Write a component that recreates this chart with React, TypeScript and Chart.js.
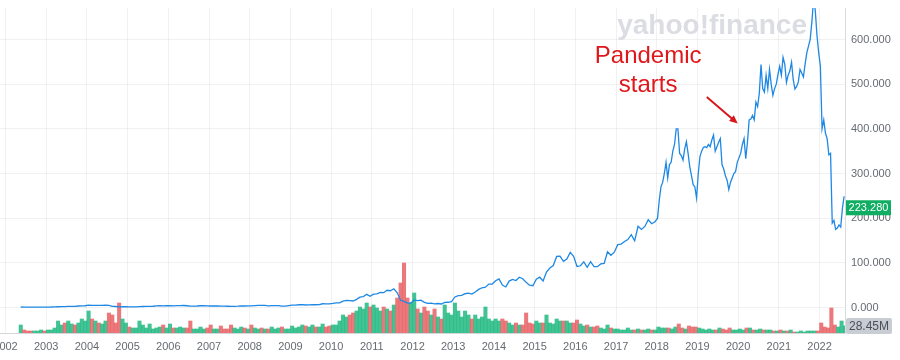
import React, { useEffect, useRef } from "react";
import { Chart, registerables } from "chart.js";

Chart.register(...registerables);

// ---- Data -----------------------------------------------------------
// Monthly closes (split adjusted), May 2002 .. Dec 2017, one per month
const PRICE_MONTHLY_START_YEAR = 2002;
const PRICE_MONTHLY_START_MONTH = 4; // 0-based: May
const PRICE_MONTHLY = [
  1.1, 1.0, 0.8, 0.7, 0.7, 0.9, 0.9, 0.8,
  0.9, 1.1, 1.5, 1.7, 1.9, 1.8, 2.6, 2.7, 2.4, 3.3, 3.7, 3.9,
  5.2, 4.6, 4.9, 4.6, 4.9, 5.1, 4.8, 2.6, 2.2, 1.6, 1.7, 1.8,
  1.6, 1.6, 1.6, 2.0, 2.2, 2.4, 2.6, 2.8, 3.7, 4.0, 3.8, 3.9,
  4.0, 3.8, 4.1, 4.2, 4.5, 3.9, 2.9, 3.0, 3.3, 3.9, 4.0, 3.7,
  3.3, 3.3, 3.3, 3.1, 3.0, 2.8, 2.5, 2.6, 3.0, 3.6, 3.4, 3.8,
  3.6, 4.3, 4.9, 4.6, 4.6, 3.8, 4.2, 4.4, 4.4, 3.2, 3.2, 4.3,
  5.2, 5.5, 6.1, 6.5, 5.6, 5.9, 6.3, 6.1, 6.6, 8.4, 8.3, 7.9,
  9.0, 10.3, 10.5, 14.2, 16.0, 15.6, 14.6, 18.1, 23.2, 24.3, 29.5, 25.1,
  30.0, 30.7, 33.9, 33.2, 38.6, 37.5, 42.0, 33.0, 16.2, 13.5, 9.8, 9.9,
  17.0, 15.6, 16.4, 11.5, 9.2, 9.8, 8.1, 8.9, 7.8, 11.6, 11.7, 13.2,
  23.6, 26.7, 27.0, 30.8, 32.3, 30.2, 34.8, 40.6, 44.2, 45.6, 52.3, 52.6,
  60.0, 64.0, 50.3, 46.0, 59.2, 62.9, 60.4, 67.9, 64.5, 56.3, 49.9, 48.8,
  63.1, 67.8, 59.5, 79.5, 88.3, 93.8, 114.3, 115.0, 103.3, 108.4, 123.3, 114.4,
  91.8, 93.4, 102.2, 90.0, 102.6, 91.5, 91.3, 97.5, 98.6, 124.9, 117.0, 123.8,
  140.7, 142.1, 147.8, 152.2, 163.1, 149.4, 181.7, 174.7, 181.4, 196.4, 187.6, 192.0,
];

// Half-monthly closes, Jan 2018 .. Aug 2022, two per month
const PRICE_HALF_START_YEAR = 2018;
const PRICE_HALF_MONTHLY = [
  200, 240, 270, 280, 300, 325, 290, 320, 325, 350, 365, 400,
  400, 345, 340, 330, 355, 371, 345, 315, 295, 275, 270, 245,
  300, 338, 350, 358, 360, 358, 365, 360, 375, 386, 350, 360,
  370, 378, 320, 310, 295, 285, 264, 280, 290, 300, 304, 325,
  335, 345, 365, 378, 333, 370, 420, 422, 430, 420, 460, 450,
  480, 544, 490, 482, 520, 490, 533, 500, 475, 490, 500, 522,
  540, 520, 560, 545, 504, 520, 530, 549, 510, 489, 495, 505,
  533, 525, 516, 545, 570, 585, 600, 640, 690, 665, 609, 571,
  540, 400, 420, 390, 378, 342, 345, 189, 195, 175, 178, 185,
  180, 222, 249,
];

// Monthly volume in millions of shares, May 2002 .. Aug 2022
const VOLUME_M = [
  32, 12, 8, 8, 8, 8, 12, 8,
  12, 12, 20, 48, 32, 40, 48, 36, 32, 40, 56, 48,
  88, 56, 48, 40, 36, 48, 80, 72, 40, 120, 56, 40,
  24, 20, 20, 48, 32, 20, 36, 16, 20, 24, 32, 20,
  36, 20, 20, 24, 20, 20, 48, 16, 16, 24, 16, 20,
  32, 16, 16, 28, 16, 16, 32, 20, 16, 24, 20, 16,
  32, 20, 16, 20, 16, 16, 24, 16, 20, 24, 16, 16,
  28, 20, 24, 32, 28, 24, 32, 24, 24, 36, 24, 28,
  32, 32, 48, 72, 64, 72, 80, 88, 104, 96, 120, 104,
  112, 100, 88, 104, 96, 88, 112, 140, 200, 280, 140, 120,
  160, 96, 80, 104, 88, 72, 96, 64, 56, 112, 80, 72,
  120, 88, 64, 88, 72, 56, 72, 56, 64, 104, 56, 48,
  56, 48, 56, 48, 40, 32, 40, 32, 32, 80, 40, 36,
  48, 40, 40, 72, 40, 36, 56, 48, 48, 48, 40, 40,
  52, 36, 28, 32, 24, 24, 28, 20, 16, 32, 20, 16,
  16, 12, 12, 20, 12, 12, 16, 12, 12, 16, 12, 12,
  24, 20, 20, 20, 16, 24, 36, 20, 16, 28, 24, 24,
  20, 16, 12, 16, 12, 12, 20, 16, 12, 20, 12, 12,
  16, 12, 20, 20, 12, 12, 16, 12, 12, 12, 8, 8,
  12, 8, 8, 12, 4, 4, 8, 4, 8, 8, 8, 8,
  40, 24, 20, 100, 32, 24, 48, 28.45,
];

const YEAR_TICKS = [
  2002, 2003, 2004, 2005, 2006, 2007, 2008, 2009, 2010, 2011, 2012,
  2013, 2014, 2015, 2016, 2017, 2018, 2019, 2020, 2021, 2022,
];
const PRICE_TICKS = [0, 100, 200, 300, 400, 500, 600];
const LAST_PRICE = 223.28;
const LAST_VOLUME = 28.45;
const LAST_VOLUME_LABEL = "28.45M";

const X_MIN = 2001.865;
const X_MAX = 2022.626;
const Y_MIN = -57.1;
const Y_MAX = 670.5;
const VOL_MAX = 1300;

const NOTE_LINES = ["Pandemic", "starts"];
const NOTE_POS = { x: 2017.79, y1: 547, y2: 482 };
const ARROW_FROM = { x: 2019.23, y: 471 };
const ARROW_TO = { x: 2019.99, y: 412 };

// ---- Derived series --------------------------------------------------
const monthlyStart = PRICE_MONTHLY_START_YEAR + PRICE_MONTHLY_START_MONTH / 12;
const pricePoints = [
  ...PRICE_MONTHLY.map((v, i) => ({ x: monthlyStart + (i + 0.5) / 12, y: v })),
  ...PRICE_HALF_MONTHLY.map((v, k) => ({ x: PRICE_HALF_START_YEAR + (k + 0.5) / 24, y: v })),
];

function priceBefore(t: number): number {
  let v = pricePoints[0].y;
  for (const p of pricePoints) {
    if (p.x <= t) v = p.y;
    else break;
  }
  return v;
}

const volumePoints = VOLUME_M.map((v, i) => ({ x: monthlyStart + (i + 0.5) / 12, y: v }));
const UP_COLOR = "rgba(32,184,128,0.85)";
const DOWN_COLOR = "rgba(232,96,100,0.85)";
const volumeColors = VOLUME_M.map((_, i) => {
  const t0 = monthlyStart + i / 12;
  const t1 = monthlyStart + (i + 1) / 12;
  return priceBefore(t1) >= priceBefore(t0) ? UP_COLOR : DOWN_COLOR;
});

const FONT = 'Arial, "Liberation Sans", Helvetica, sans-serif';
const GRID = "rgba(0,0,0,0.055)";
const TICK_COLOR = "#666b72";

const overlayPlugin = {
  id: "overlay",
  beforeDatasetsDraw(chart: any) {
    const { ctx, chartArea } = chart;
    ctx.save();
    ctx.font = `bold 28px ${FONT}`;
    ctx.fillStyle = "#dcdde3";
    ctx.textAlign = "right";
    ctx.textBaseline = "alphabetic";
    ctx.fillText("yahoo!finance", chartArea.right - 38, chartArea.top + 26);
    ctx.restore();
  },
  afterDatasetsDraw(chart: any) {
    const { ctx } = chart;
    const xs = chart.scales.x;
    const ys = chart.scales.y;
    ctx.save();
    ctx.fillStyle = "#e0161b";
    ctx.font = `24px ${FONT}`;
    ctx.textAlign = "center";
    ctx.textBaseline = "alphabetic";
    const cx = xs.getPixelForValue(NOTE_POS.x);
    ctx.fillText(NOTE_LINES[0], cx, ys.getPixelForValue(NOTE_POS.y1));
    ctx.fillText(NOTE_LINES[1], cx, ys.getPixelForValue(NOTE_POS.y2));
    // arrow
    const x1 = xs.getPixelForValue(ARROW_FROM.x);
    const y1 = ys.getPixelForValue(ARROW_FROM.y);
    const x2 = xs.getPixelForValue(ARROW_TO.x);
    const y2 = ys.getPixelForValue(ARROW_TO.y);
    const ang = Math.atan2(y2 - y1, x2 - x1);
    const head = 9;
    ctx.strokeStyle = "#d8171c";
    ctx.lineWidth = 2;
    ctx.beginPath();
    ctx.moveTo(x1, y1);
    ctx.lineTo(x2 - Math.cos(ang) * head * 0.6, y2 - Math.sin(ang) * head * 0.6);
    ctx.stroke();
    ctx.beginPath();
    ctx.moveTo(x2, y2);
    ctx.lineTo(x2 - head * Math.cos(ang - 0.42), y2 - head * Math.sin(ang - 0.42));
    ctx.lineTo(x2 - head * Math.cos(ang + 0.42), y2 - head * Math.sin(ang + 0.42));
    ctx.closePath();
    ctx.fillStyle = "#d8171c";
    ctx.fill();
    ctx.restore();
  },
  afterDraw(chart: any) {
    const { ctx, chartArea } = chart;
    const ys = chart.scales.y;
    const vs = chart.scales.yv;
    ctx.save();
    ctx.font = `11px ${FONT}`;
    ctx.textBaseline = "middle";
    ctx.textAlign = "center";
    // price badge
    const py = ys.getPixelForValue(LAST_PRICE);
    const bx = chartArea.right + 1;
    ctx.fillStyle = "#0fae62";
    ctx.fillRect(bx, py - 7.5, 45, 15);
    ctx.fillStyle = "#ffffff";
    ctx.fillText(LAST_PRICE.toFixed(3), bx + 22.5, py + 0.5);
    // volume badge
    const vy = vs.getPixelForValue(LAST_VOLUME);
    ctx.fillStyle = "#c8ccd3";
    ctx.beginPath();
    const r = 2, w = 46, h = 16, x0 = bx, y0 = vy - 8;
    ctx.moveTo(x0 + r, y0);
    ctx.lineTo(x0 + w - r, y0);
    ctx.quadraticCurveTo(x0 + w, y0, x0 + w, y0 + r);
    ctx.lineTo(x0 + w, y0 + h - r);
    ctx.quadraticCurveTo(x0 + w, y0 + h, x0 + w - r, y0 + h);
    ctx.lineTo(x0 + r, y0 + h);
    ctx.quadraticCurveTo(x0, y0 + h, x0, y0 + h - r);
    ctx.lineTo(x0, y0 + r);
    ctx.quadraticCurveTo(x0, y0, x0 + r, y0);
    ctx.fill();
    ctx.fillStyle = "#4a5058";
    ctx.font = `12px ${FONT}`;
    ctx.fillText(LAST_VOLUME_LABEL, x0 + w / 2, vy + 0.5);
    ctx.restore();
  },
};

export default function App() {
  const ref = useRef<HTMLCanvasElement | null>(null);

  useEffect(() => {
    if (!ref.current) return;
    const chart = new Chart(ref.current, {
      type: "bar",
      data: {
        datasets: [
          {
            type: "line",
            label: "Price",
            data: pricePoints,
            yAxisID: "y",
            xAxisID: "x",
            borderColor: "#1e88e5",
            borderWidth: 1.3,
            pointRadius: 0,
            tension: 0,
            order: 0,
          } as any,
          {
            type: "bar",
            label: "Volume",
            data: volumePoints,
            yAxisID: "yv",
            xAxisID: "x",
            backgroundColor: volumeColors,
            borderWidth: 0,
            barPercentage: 1,
            categoryPercentage: 1,
            order: 1,
          } as any,
        ],
      },
      options: {
        responsive: false,
        animation: false,
        devicePixelRatio: 1,
        layout: { autoPadding: false, padding: { top: 8, left: 0, right: 0, bottom: 0 } },
        plugins: { legend: { display: false }, tooltip: { enabled: false } },
        scales: {
          x: {
            type: "linear",
            position: "bottom",
            offset: false,
            min: X_MIN,
            max: X_MAX,
            afterBuildTicks: (s: any) => {
              s.ticks = YEAR_TICKS.map((v) => ({ value: v }));
            },
            afterFit: (s: any) => {
              s.height = 27;
              s.paddingLeft = 0;
              s.paddingRight = 0;
            },
            ticks: {
              autoSkip: false,
              maxRotation: 0,
              padding: 7,
              color: TICK_COLOR,
              font: { family: FONT, size: 11 },
              callback: (v: any) => String(v),
            },
            grid: { color: GRID, drawTicks: false, offset: false },
            border: { display: true, color: "#d4d6d9" },
          },
          y: {
            type: "linear",
            position: "right",
            min: Y_MIN,
            max: Y_MAX,
            afterBuildTicks: (s: any) => {
              s.ticks = PRICE_TICKS.map((v) => ({ value: v }));
            },
            afterFit: (s: any) => {
              s.width = 55;
              s.paddingTop = 0;
              s.paddingBottom = 0;
            },
            ticks: {
              padding: 6,
              color: TICK_COLOR,
              font: { family: FONT, size: 11 },
              callback: (v: any) => Number(v).toFixed(3),
            },
            grid: { color: GRID, drawTicks: false },
            border: { display: true, color: "#d9dbde" },
          },
          yv: {
            type: "linear",
            display: false,
            min: 0,
            max: VOL_MAX,
            grid: { display: false },
          },
        },
      } as any,
      plugins: [overlayPlugin],
    });
    return () => chart.destroy();
  }, []);

  return (
    <div style={{ position: "fixed", left: 0, top: 0, width: 900, height: 360, background: "#fff" }}>
      <canvas ref={ref} width={900} height={360} style={{ display: "block", width: 900, height: 360 }} />
    </div>
  );
}
